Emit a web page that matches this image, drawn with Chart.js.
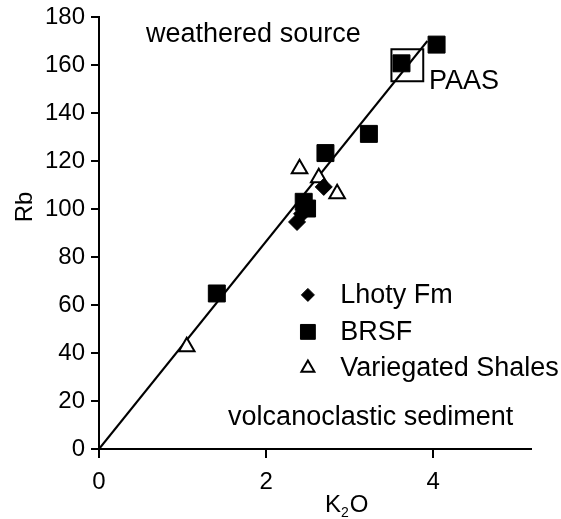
<!DOCTYPE html>
<html>
<head>
<meta charset="utf-8">
<script src="https://cdn.jsdelivr.net/npm/chart.js@4.4.1/dist/chart.umd.min.js"></script>
<style>
  body { margin: 0; background: #fff; }
  canvas { display: block; }
</style>
</head>
<body>
<canvas id="rbChart" width="561" height="519"></canvas>
<script>
// values (K2O wt%, Rb ppm)
const brsfK2O = [4.04, 3.62, 3.23, 2.71, 2.45, 2.49, 1.41];
const brsfRb = [168.5, 160.7, 131.3, 123.3, 103, 100.2, 64.8];

const lhotyK2O = [2.37, 2.43, 2.69];
const lhotyRb = [94.6, 98, 109.2];

const shalesK2O = [2.40, 2.63, 2.85, 1.05];
const shalesRb = [116.8, 113, 106.4, 42.6];

const paasK2O = [3.69];
const paasRb = [159.9];

const trendK2O = [0, 3.93];
const trendRb = [0, 170];

const xTicks = [0, 2, 4];
const yTicks = [0, 20, 40, 60, 80, 100, 120, 140, 160, 180];

const FONT = "'Liberation Sans', Arial, Helvetica, sans-serif";
const INK = "#000";

function toPoints(xs, ys) {
  return xs.map((x, i) => ({ x: x, y: ys[i] }));
}

// legend entries, drawn inside the plot
const legendItems = [
  { label: "Lhoty Fm", pointStyle: "rectRot", radius: 6.5, fill: INK, stroke: INK, borderWidth: 1 },
  { label: "BRSF", pointStyle: "rect", radius: 10.5, fill: INK, stroke: INK, borderWidth: 1 },
  { label: "Variegated Shales", pointStyle: "triangle", radius: 7.5, fill: "#fff", stroke: INK, borderWidth: 2 }
];

function drawMarker(ctx, item, x, y) {
  ctx.save();
  ctx.fillStyle = item.fill;
  ctx.strokeStyle = item.stroke;
  ctx.lineWidth = item.borderWidth;
  if (Chart.helpers && Chart.helpers.drawPoint) {
    Chart.helpers.drawPoint(ctx, { pointStyle: item.pointStyle, radius: item.radius, rotation: 0, borderWidth: item.borderWidth }, x, y);
  }
  ctx.restore();
}

// no automatic label padding, so the plot area sits where the reference has it
function noPadding(scale) {
  scale.paddingTop = 0;
  scale.paddingBottom = 0;
  scale.paddingLeft = 0;
  scale.paddingRight = 0;
}

const textPlugin = {
  id: "textPlugin",
  afterDatasetsDraw(chart) {
    const ctx = chart.ctx;
    const xs = chart.scales.x;
    const ys = chart.scales.y;
    ctx.save();
    ctx.fillStyle = INK;
    ctx.textBaseline = "alphabetic";
    ctx.textAlign = "left";
    ctx.font = "27px " + FONT;

    ctx.fillText("weathered source", xs.getPixelForValue(0.563), ys.getPixelForValue(169.4));
    ctx.fillText("volcanoclastic sediment", xs.getPixelForValue(1.545), ys.getPixelForValue(10.1));
    ctx.fillText("PAAS", xs.getPixelForValue(3.95), ys.getPixelForValue(150.1));

    // legend
    const legendRows = [64.2, 48.8, 33.8];
    ctx.textBaseline = "middle";
    legendItems.forEach((item, i) => {
      const py = ys.getPixelForValue(legendRows[i]);
      drawMarker(ctx, item, xs.getPixelForValue(2.5), py);
      ctx.fillStyle = INK;
      ctx.font = "27px " + FONT;
      ctx.fillText(item.label, xs.getPixelForValue(2.886), py + 1);
    });

    // axis titles
    ctx.font = "24px " + FONT;
    ctx.textBaseline = "alphabetic";
    ctx.save();
    ctx.translate(32, 207);
    ctx.rotate(-Math.PI / 2);
    ctx.textAlign = "center";
    ctx.fillText("Rb", 0, 0);
    ctx.restore();

    let kx = 325, ky = 512;
    ctx.textAlign = "left";
    ctx.fillText("K", kx, ky);
    kx += ctx.measureText("K").width;
    ctx.font = "14px " + FONT;
    ctx.fillText("2", kx, ky + 5);
    kx += ctx.measureText("2").width + 1;
    ctx.font = "24px " + FONT;
    ctx.fillText("O", kx, ky);
    ctx.restore();
  }
};

new Chart(document.getElementById("rbChart"), {
  type: "scatter",
  data: {
    datasets: [
      {
        label: "BRSF",
        data: toPoints(brsfK2O, brsfRb),
        pointStyle: "rect",
        pointRadius: 12,
        backgroundColor: INK,
        borderColor: INK,
        borderWidth: 1,
        order: 0
      },
      {
        label: "Lhoty Fm",
        data: toPoints(lhotyK2O, lhotyRb),
        pointStyle: "rectRot",
        pointRadius: 8.5,
        backgroundColor: INK,
        borderColor: INK,
        borderWidth: 1,
        order: 1
      },
      {
        label: "Variegated Shales",
        data: toPoints(shalesK2O, shalesRb),
        pointStyle: "triangle",
        pointRadius: 9,
        backgroundColor: "#fff",
        borderColor: INK,
        borderWidth: 2,
        order: 2
      },
      {
        label: "PAAS",
        data: toPoints(paasK2O, paasRb),
        pointStyle: "rect",
        pointRadius: 22.5,
        backgroundColor: "rgba(0,0,0,0)",
        borderColor: INK,
        borderWidth: 2,
        order: 3
      },
      {
        label: "trend",
        data: toPoints(trendK2O, trendRb),
        showLine: true,
        pointRadius: 0,
        borderColor: INK,
        borderWidth: 2,
        order: 4
      }
    ]
  },
  options: {
    responsive: false,
    animation: false,
    devicePixelRatio: 1,
    clip: false,
    layout: { autoPadding: false, padding: { top: 17, right: 30, left: 0, bottom: 0 } },
    plugins: {
      legend: { display: false },
      tooltip: { enabled: false }
    },
    scales: {
      x: {
        type: "linear",
        min: 0,
        max: 5.17,
        afterBuildTicks: (scale) => { scale.ticks = xTicks.map(v => ({ value: v })); },
        afterFit: (scale) => { scale.height = 70; noPadding(scale); },
        ticks: { color: INK, font: { family: FONT, size: 24 }, padding: 10 },
        grid: { drawOnChartArea: false, drawTicks: true, tickLength: 9, color: "#000", lineWidth: 2 },
        border: { display: true, color: "#000", width: 2 }
      },
      y: {
        type: "linear",
        min: 0,
        max: 180,
        afterBuildTicks: (scale) => { scale.ticks = yTicks.map(v => ({ value: v })); },
        afterFit: (scale) => { scale.width = 99; noPadding(scale); },
        ticks: { color: INK, font: { family: FONT, size: 24 }, padding: 6 },
        grid: { drawOnChartArea: false, drawTicks: true, tickLength: 8, color: "#000", lineWidth: 2 },
        border: { display: true, color: "#000", width: 2 }
      }
    }
  },
  plugins: [textPlugin]
});
</script>
</body>
</html>
